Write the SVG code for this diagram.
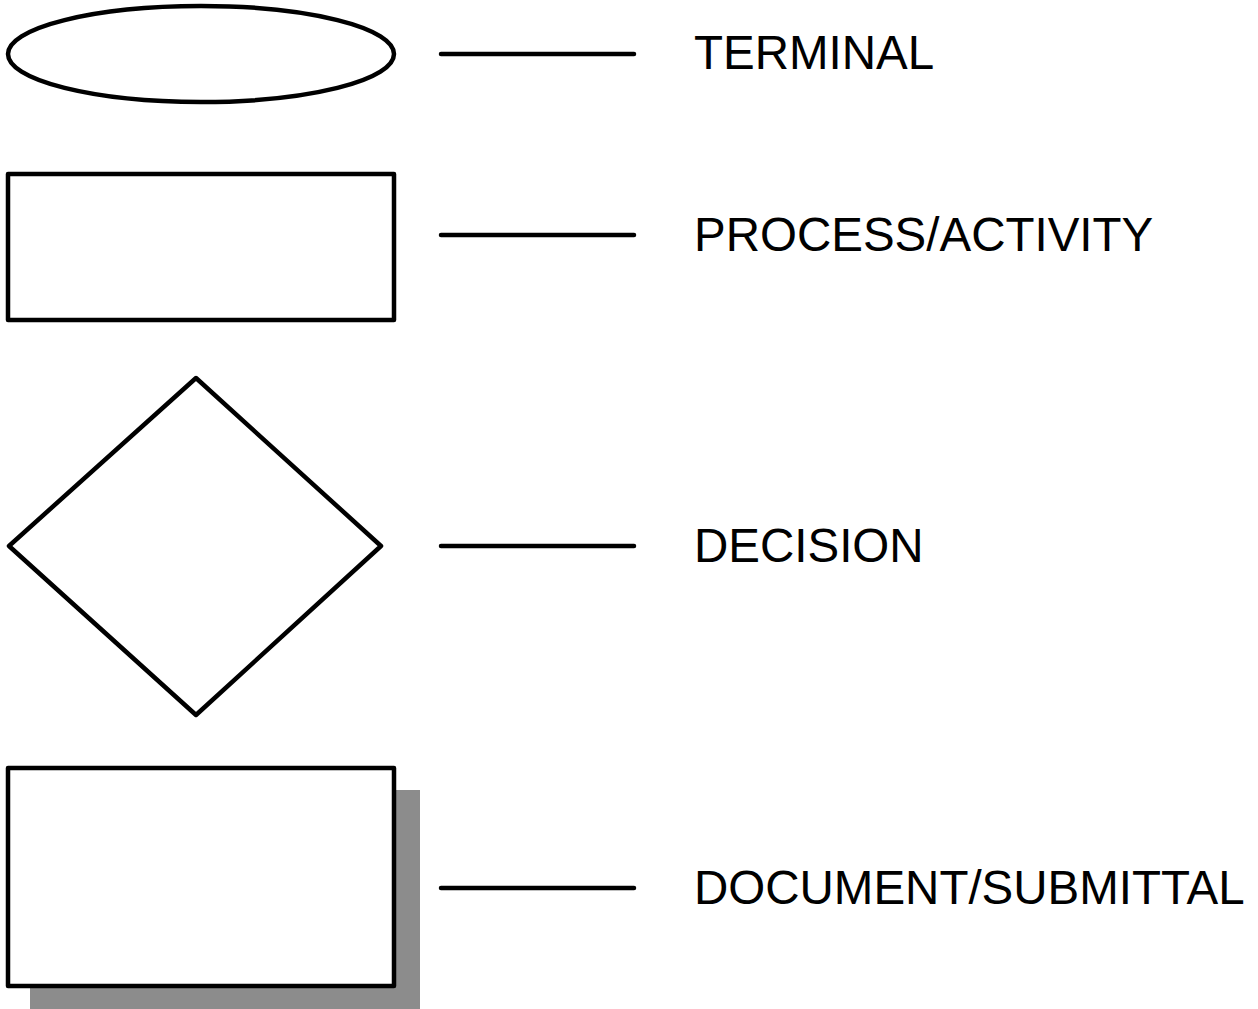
<svg xmlns="http://www.w3.org/2000/svg" width="1258" height="1009" viewBox="0 0 1258 1009">
  <style>
    .shape { fill: #ffffff; stroke: #000000; stroke-width: 4.5; stroke-linejoin: round; }
    .lead { stroke: #000000; stroke-width: 4.5; stroke-linecap: round; fill: none; }
    .label { font-family: "Liberation Sans", Arial, sans-serif; font-size: 47.5px; fill: #000000; }
  </style>
  <rect width="1258" height="1009" fill="#ffffff"/>

  <g id="terminal">
    <ellipse class="shape" cx="201" cy="54" rx="193" ry="48"/>
    <text class="label" x="694" y="69">TERMINAL</text>
  </g>

  <g id="process">
    <rect class="shape" x="8" y="174" width="386" height="146"/>
    <text class="label" x="694" y="251">PROCESS/ACTIVITY</text>
  </g>

  <g id="decision">
    <polygon class="shape" points="196,378 381,546 196,715 9,546"/>
    <text class="label" x="694" y="562">DECISION</text>
  </g>

  <g id="document">
    <rect x="30" y="790" width="390" height="225" fill="#8c8c8c"/>
    <rect class="shape" x="8" y="768" width="386" height="218"/>
    <text class="label" x="694" y="904">DOCUMENT/SUBMITTAL</text>
  </g>

  <g id="connectors">
    <line class="lead" x1="441" y1="54" x2="634" y2="54"/>
    <line class="lead" x1="441" y1="235" x2="634" y2="235"/>
    <line class="lead" x1="441" y1="546" x2="634" y2="546"/>
    <line class="lead" x1="441" y1="888" x2="634" y2="888"/>
  </g>
</svg>
